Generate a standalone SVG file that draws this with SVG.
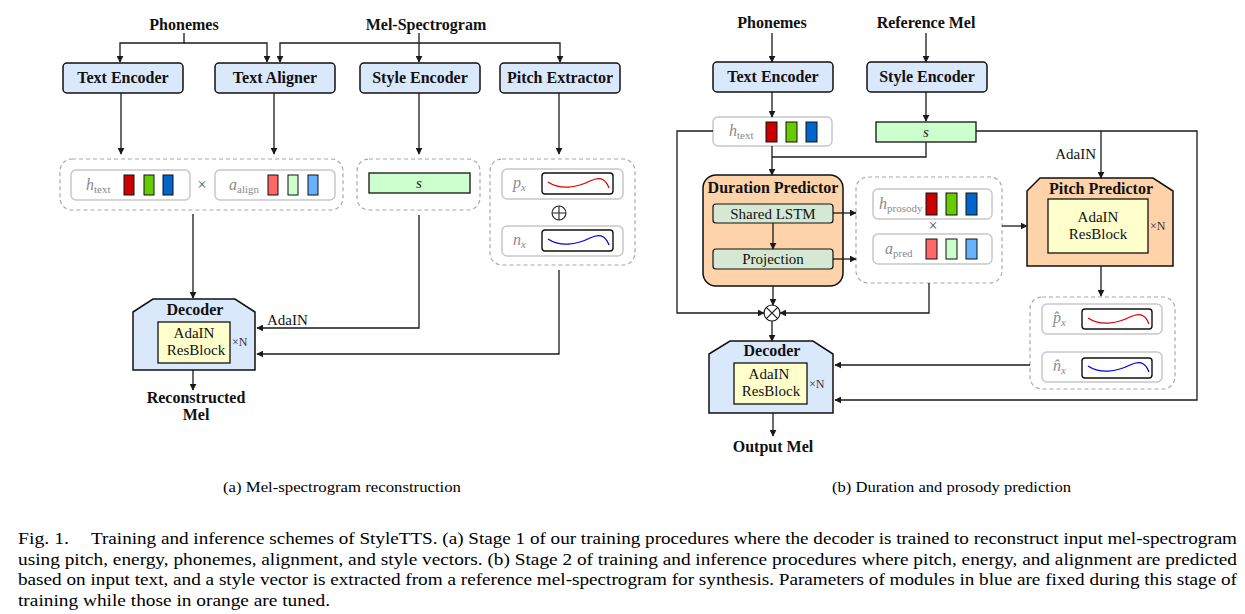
<svg xmlns="http://www.w3.org/2000/svg" xmlns:xlink="http://www.w3.org/1999/xlink" width="1245" height="614" viewBox="0 0 1245 614">
<style>
text{font-family:"Liberation Serif","Times New Roman",serif;fill:#111}
.b{font-weight:bold;font-size:16px}
.t{font-size:15px}
.xn{font-size:12px;fill:#333}
.mi{font-style:italic;font-size:16px;fill:#8a8a8a}
.sub{font-size:11px;fill:#8a8a8a;font-style:normal}
.subi{font-size:11px;fill:#8a8a8a;font-style:italic}
.cap{font-size:14.5px;fill:#000}
.fig{font-size:17px;fill:#000}
.blue{fill:#dae8fc;stroke:#111;stroke-width:1.5}
.orange{fill:#ffd3aa;stroke:#111;stroke-width:1.5}
.yel{fill:#ffffcc;stroke:#111;stroke-width:1.3}
.lg{fill:#d5e8d4;stroke:#111;stroke-width:1.2}
.sv{fill:#ccffcc;stroke:#111;stroke-width:1.3}
.dash{fill:none;stroke:#a8a8a8;stroke-width:1.2;stroke-dasharray:4 3}
.gbox{fill:#fff;stroke:#c8c8c8;stroke-width:1.5}
.wbox{fill:#fff;stroke:#111;stroke-width:1.4}
.vr{stroke:#111;stroke-width:1}
.c{fill:none;stroke:#1a1a1a;stroke-width:1.3}
.a{marker-end:url(#ah)}
</style>
<defs>
<marker id="ah" viewBox="0 0 10 10" refX="9" refY="5" markerWidth="7" markerHeight="7" markerUnits="userSpaceOnUse" orient="auto">
<path d="M0 0 L10 5 L0 10 Z" fill="#1a1a1a"/>
</marker>
<path id="wave" d="M6 9 C 18 17, 34 15, 48 8 C 56 4, 63 4, 67 15" fill="none" stroke-width="1.3"/>
</defs>

<!-- ================= Panel (a) ================= -->
<g id="a-phonemes"><text class="b" x="184" y="30" text-anchor="middle">Phonemes</text></g>
<g id="a-melspec"><text class="b" x="426" y="30" text-anchor="middle">Mel-Spectrogram</text></g>

<g id="a-text-encoder"><rect class="blue" x="63" y="63" width="120" height="30" rx="4"/><text class="b" x="123" y="83" text-anchor="middle">Text Encoder</text></g>
<g id="a-text-aligner"><rect class="blue" x="215" y="63" width="120" height="30" rx="4"/><text class="b" x="275" y="83" text-anchor="middle">Text Aligner</text></g>
<g id="a-style-encoder"><rect class="blue" x="360" y="63" width="120" height="30" rx="4"/><text class="b" x="420" y="83" text-anchor="middle">Style Encoder</text></g>
<g id="a-pitch-extractor"><rect class="blue" x="500" y="63" width="120" height="30" rx="4"/><text class="b" x="560" y="83" text-anchor="middle">Pitch Extractor</text></g>

<g id="a-text-features">
<rect class="dash" x="60" y="159" width="283" height="51" rx="12"/>
<rect class="gbox" x="71" y="170" width="119" height="30" rx="5"/>
<text class="mi" x="86" y="190">h<tspan class="sub" dy="3">text</tspan></text>
<rect class="vr" x="124" y="175" width="10" height="20" fill="#cc0000"/>
<rect class="vr" x="144" y="175" width="10" height="20" fill="#66cc00"/>
<rect class="vr" x="163" y="175" width="10" height="20" fill="#0066cc"/>
<text x="202" y="190" text-anchor="middle" style="font-size:16px;fill:#555">×</text>
<rect class="gbox" x="215" y="170" width="120" height="30" rx="5"/>
<text class="mi" x="229" y="190">a<tspan class="sub" dy="3">align</tspan></text>
<rect class="vr" x="268" y="175" width="10" height="20" fill="#ff6666"/>
<rect class="vr" x="288" y="175" width="10" height="20" fill="#ccffcc"/>
<rect class="vr" x="308" y="175" width="10" height="20" fill="#66b2ff"/>
</g>

<g id="a-style-vector">
<rect class="dash" x="357" y="159" width="123" height="51" rx="12"/>
<rect class="sv" x="369" y="173" width="101" height="20"/>
<text x="419" y="188" text-anchor="middle" style="font-style:italic;font-size:15px;fill:#222">s</text>
</g>

<g id="a-pitch-energy">
<rect class="dash" x="490" y="159" width="145" height="106" rx="12"/>
<rect class="gbox" x="502" y="169" width="121" height="30" rx="5"/>
<text class="mi" x="513" y="188">p<tspan class="subi" dy="3">x</tspan></text>
<rect class="wbox" x="542" y="173" width="71" height="21" rx="3"/>
<use xlink:href="#wave" x="542" y="173" stroke="#dd0000"/>
<circle cx="559" cy="213" r="7" fill="none" stroke="#222" stroke-width="1.1"/>
<path d="M552 213 H566 M559 206 V220" stroke="#222" stroke-width="1.1"/>
<rect class="gbox" x="502" y="226" width="121" height="30" rx="5"/>
<text class="mi" x="513" y="245">n<tspan class="subi" dy="3">x</tspan></text>
<rect class="wbox" x="542" y="230" width="71" height="21" rx="3"/>
<use xlink:href="#wave" x="542" y="230" stroke="#0000ee"/>
</g>

<g id="a-decoder">
<path class="blue" d="M133 312 L153 299 L235 299 L255 312 L255 370 L133 370 Z"/>
<text class="b" x="195" y="315" text-anchor="middle">Decoder</text>
<rect class="yel" x="158" y="322" width="72" height="41"/>
<text class="t" x="194" y="338" text-anchor="middle">AdaIN</text>
<text class="t" x="196" y="355" text-anchor="middle">ResBlock</text>
<text class="xn" x="232" y="346">×N</text>
</g>

<g id="a-output"><text class="b" x="196" y="403" text-anchor="middle">Reconstructed</text><text class="b" x="196" y="420" text-anchor="middle">Mel</text></g>

<g id="a-connectors">
<path class="c a" d="M184 33 V43 H120 V62"/>
<path class="c a" d="M184 43 H267 V62"/>
<path class="c a" d="M419 33 V62"/>
<path class="c a" d="M419 43 H280 V62"/>
<path class="c a" d="M419 43 H560 V62"/>
<path class="c a" d="M121 93 V154"/>
<path class="c a" d="M274 93 V154"/>
<path class="c a" d="M419 93 V154"/>
<path class="c a" d="M559 93 V154"/>
<path class="c a" d="M193 214 V298"/>
<path class="c a" d="M419 215 V328 H257"/>
<path class="c a" d="M559 270 V354 H257"/>
<path class="c a" d="M193 370 V390"/>
<text class="t" x="267" y="325">AdaIN</text>
</g>

<text class="cap" x="223" y="492" textLength="238" lengthAdjust="spacingAndGlyphs">(a) Mel-spectrogram reconstruction</text>

<!-- ================= Panel (b) ================= -->
<g id="b-phonemes"><text class="b" x="772" y="28" text-anchor="middle">Phonemes</text></g>
<g id="b-refmel"><text class="b" x="926" y="28" text-anchor="middle">Reference Mel</text></g>

<g id="b-text-encoder"><rect class="blue" x="713" y="62" width="120" height="30" rx="4"/><text class="b" x="773" y="82" text-anchor="middle">Text Encoder</text></g>
<g id="b-style-encoder"><rect class="blue" x="867" y="62" width="120" height="30" rx="4"/><text class="b" x="927" y="82" text-anchor="middle">Style Encoder</text></g>

<g id="b-htext">
<rect class="gbox" x="713" y="117" width="119" height="29" rx="5"/>
<text class="mi" x="729" y="136">h<tspan class="sub" dy="3">text</tspan></text>
<rect class="vr" x="766" y="122" width="11" height="20" fill="#cc0000"/>
<rect class="vr" x="786" y="122" width="11" height="20" fill="#66cc00"/>
<rect class="vr" x="806" y="122" width="11" height="20" fill="#0066cc"/>
</g>

<g id="b-style-vector">
<rect class="sv" x="876" y="122" width="100" height="20"/>
<text x="926" y="137" text-anchor="middle" style="font-style:italic;font-size:15px;fill:#222">s</text>
</g>

<g id="b-duration-predictor">
<rect class="orange" x="703" y="175" width="140" height="111" rx="13"/>
<text class="b" x="773" y="193" text-anchor="middle">Duration Predictor</text>
<rect class="lg" x="713" y="204" width="120" height="19" rx="3"/>
<text class="t" x="773" y="219" text-anchor="middle">Shared LSTM</text>
<rect class="lg" x="713" y="249" width="120" height="20" rx="3"/>
<text class="t" x="773" y="264" text-anchor="middle">Projection</text>
</g>

<g id="b-prosody-alignment">
<rect class="dash" x="856" y="177" width="146" height="106" rx="12"/>
<rect class="gbox" x="873" y="189" width="119" height="30" rx="5"/>
<text class="mi" x="879" y="209">h<tspan class="sub" dy="3">prosody</tspan></text>
<rect class="vr" x="926" y="193" width="11" height="22" fill="#cc0000"/>
<rect class="vr" x="946" y="193" width="11" height="22" fill="#66cc00"/>
<rect class="vr" x="966" y="193" width="11" height="22" fill="#0066cc"/>
<text x="933" y="231" text-anchor="middle" style="font-size:16px;fill:#555">×</text>
<rect class="gbox" x="873" y="234" width="119" height="30" rx="5"/>
<text class="mi" x="885" y="254">a<tspan class="sub" dy="3">pred</tspan></text>
<rect class="vr" x="926" y="239" width="11" height="20" fill="#ff6666"/>
<rect class="vr" x="946" y="239" width="11" height="20" fill="#ccffcc"/>
<rect class="vr" x="966" y="239" width="11" height="20" fill="#66b2ff"/>
</g>

<g id="b-pitch-predictor">
<path class="orange" d="M1027 191 L1040 178 L1153 178 L1173 191 L1173 266 L1027 266 Z"/>
<text class="b" x="1101" y="194" text-anchor="middle">Pitch Predictor</text>
<rect class="yel" x="1048" y="199" width="100" height="54"/>
<text class="t" x="1098" y="222" text-anchor="middle">AdaIN</text>
<text class="t" x="1098" y="239" text-anchor="middle">ResBlock</text>
<text class="xn" x="1150" y="230">×N</text>
</g>

<g id="b-pitch-energy">
<rect class="dash" x="1030" y="297" width="145" height="92" rx="12"/>
<rect class="gbox" x="1042" y="304" width="120" height="30" rx="5"/>
<text class="mi" x="1053" y="323">p̂<tspan class="subi" dy="3">x</tspan></text>
<rect class="wbox" x="1082" y="309" width="70" height="20" rx="3"/>
<use xlink:href="#wave" x="1082" y="309" stroke="#dd0000"/>
<rect class="gbox" x="1042" y="352" width="120" height="30" rx="5"/>
<text class="mi" x="1053" y="371">n̂<tspan class="subi" dy="3">x</tspan></text>
<rect class="wbox" x="1082" y="358" width="70" height="20" rx="3"/>
<use xlink:href="#wave" x="1082" y="357" stroke="#0000ee"/>
</g>

<g id="b-multiply">
<circle cx="772" cy="313" r="8" fill="#fff" stroke="#1a1a1a" stroke-width="1.2"/>
<path d="M766.3 307.3 L777.7 318.7 M777.7 307.3 L766.3 318.7" stroke="#1a1a1a" stroke-width="1.2"/>
</g>

<g id="b-decoder">
<path class="blue" d="M709 354 L730 341 L813 341 L833 354 L833 413 L709 413 Z"/>
<text class="b" x="772" y="356" text-anchor="middle">Decoder</text>
<rect class="yel" x="734" y="363" width="73" height="41"/>
<text class="t" x="769" y="379" text-anchor="middle">AdaIN</text>
<text class="t" x="771" y="396" text-anchor="middle">ResBlock</text>
<text class="xn" x="809" y="388">×N</text>
</g>

<g id="b-output"><text class="b" x="773" y="452" text-anchor="middle">Output Mel</text></g>

<g id="b-connectors">
<path class="c a" d="M772 33 V62"/>
<path class="c a" d="M926 33 V62"/>
<path class="c a" d="M772 92 V117"/>
<path class="c a" d="M926 92 V121"/>
<path class="c a" d="M772 146 V175"/>
<path class="c" d="M926 142 V157 H772"/>
<path class="c a" d="M713 131 H677 V313 H764"/>
<path class="c a" d="M976 131 H1197 V400 H835"/>
<path class="c a" d="M1101 131 V178"/>
<path class="c a" d="M773 223 V249"/>
<path class="c a" d="M833 213 H856"/>
<path class="c a" d="M833 259 H856"/>
<path class="c a" d="M1002 226 H1027"/>
<path class="c a" d="M773 286 V305"/>
<path class="c a" d="M929 283 V313 H780"/>
<path class="c a" d="M772 321 V341"/>
<path class="c a" d="M1101 266 V296"/>
<path class="c a" d="M1030 365 H835"/>
<path class="c a" d="M773 413 V436"/>
<text class="t" x="1096" y="159" text-anchor="end">AdaIN</text>
</g>

<text class="cap" x="832" y="492" textLength="239" lengthAdjust="spacingAndGlyphs">(b) Duration and prosody prediction</text>

<!-- ================= Caption ================= -->
<g id="caption">
<text class="fig" x="18" y="544" textLength="51" lengthAdjust="spacingAndGlyphs">Fig. 1.</text>
<text class="fig" x="91" y="544" textLength="1146" lengthAdjust="spacingAndGlyphs">Training and inference schemes of StyleTTS. (a) Stage 1 of our training procedures where the decoder is trained to reconstruct input mel-spectrogram</text>
<text class="fig" x="18" y="564.5" textLength="1219" lengthAdjust="spacingAndGlyphs">using pitch, energy, phonemes, alignment, and style vectors. (b) Stage 2 of training and inference procedures where pitch, energy, and alignment are predicted</text>
<text class="fig" x="18" y="585" textLength="1219" lengthAdjust="spacingAndGlyphs">based on input text, and a style vector is extracted from a reference mel-spectrogram for synthesis. Parameters of modules in blue are fixed during this stage of</text>
<text class="fig" x="18" y="605.5" textLength="312" lengthAdjust="spacingAndGlyphs">training while those in orange are tuned.</text>
</g>
</svg>
